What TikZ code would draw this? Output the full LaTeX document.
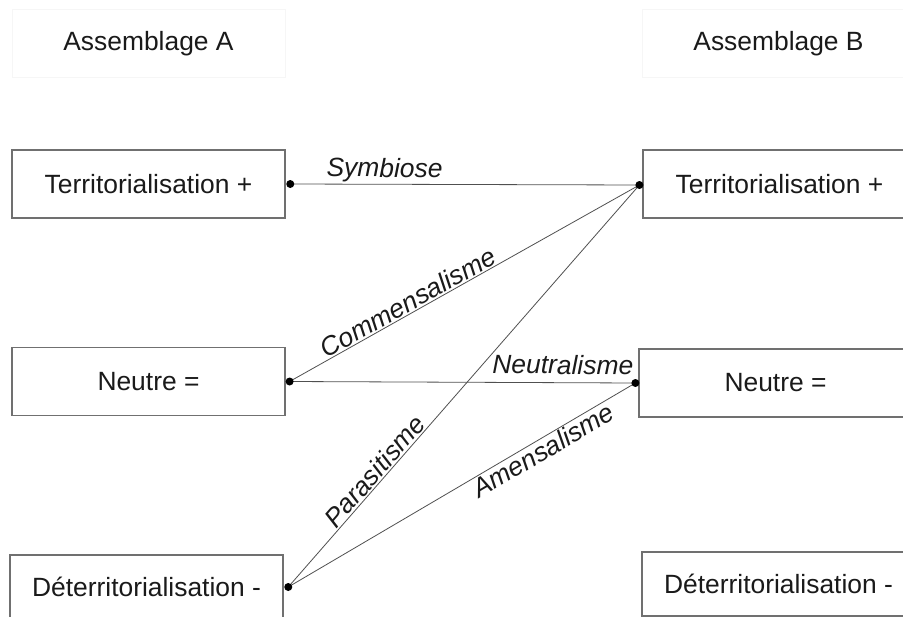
\documentclass[tikz,border=0pt]{standalone}
\usepackage{fontspec}
\setmainfont{Liberation Sans}
\definecolor{boxgray}{HTML}{707070}
\definecolor{hdrgray}{HTML}{F6F6F6}
\definecolor{linkgray}{HTML}{505050}
\definecolor{txt}{HTML}{1A1A1A}
\begin{document}
\begin{tikzpicture}[x=0.75pt,y=-0.75pt,
  txtfont/.style={font=\fontsize{19.8}{24}\selectfont, text=txt},
  box/.style={draw=boxgray, line width=0.9pt, minimum width=204.75pt, minimum height=51pt, inner sep=0pt, txtfont},
  hdr/.style={draw=hdrgray, line width=0.75pt, minimum width=204.75pt, minimum height=51pt, inner sep=0pt, txtfont},
  link/.style={draw=linkgray, line width=0.6pt},
  lab/.style={font=\itshape\fontsize{19.8}{24}\selectfont, text=txt, inner sep=1pt, sloped},
  dotmark/.style={circle, fill=black, inner sep=0pt, minimum size=6pt}]
\useasboundingbox (0,0) rectangle (903,617);
\clip (0,0) rectangle (903,617);
\fill[white] (0,0) rectangle (903,617);
% headers
\node[hdr] (hA) at (148.5,44) {Assemblage A};
\node[hdr] (hB) at (778.5,44) {Assemblage B};
% left column
\node[box] (a1) at (148.5,184) {Territorialisation +};
\node[box] (a2) at (148.5,381.5) {Neutre =};
\node[box, minimum height=48pt] (a3) at (146.5,587) {Déterritorialisation -};
% right column
\node[box] (b1) at (779.5,184) {Territorialisation +};
\node[box] (b2) at (775.5,383) {Neutre =};
\node[box, minimum height=48pt] (b3) at (778.5,584) {Déterritorialisation -};
% connection points
\coordinate (pa1) at ([xshift=3.5pt]a1.east);
\coordinate (pa2) at ([xshift=3pt]a2.east);
\coordinate (pa3) at ([xshift=3.5pt]a3.east);
\coordinate (pb1) at ([xshift=-2.25pt,yshift=-0.75pt]b1.west);
\coordinate (pb2) at ([xshift=-2.25pt]b2.west);
% connectors
\draw[link] (pa1) -- node[lab, above, pos=0.27] {Symbiose} (pb1);
\draw[link] (pa2) -- node[lab, above, pos=0.354] {Commensalisme} (pb1);
\draw[link] (pa2) -- node[lab, above=5pt, pos=0.79] {Neutralisme} (pb2);
\draw[link] (pa3) -- node[lab, above, pos=0.27] {Parasitisme} (pb1);
\draw[link] (pa3) -- node[lab, below, pos=0.718] {Amensalisme} (pb2);
% dots
\node[dotmark] (d1) at (pa1) {};
\node[dotmark] (d2) at (pa2) {};
\node[dotmark] (d3) at (pa3) {};
\node[dotmark] (d4) at (pb1) {};
\node[dotmark] (d5) at (pb2) {};
\end{tikzpicture}
\end{document}
